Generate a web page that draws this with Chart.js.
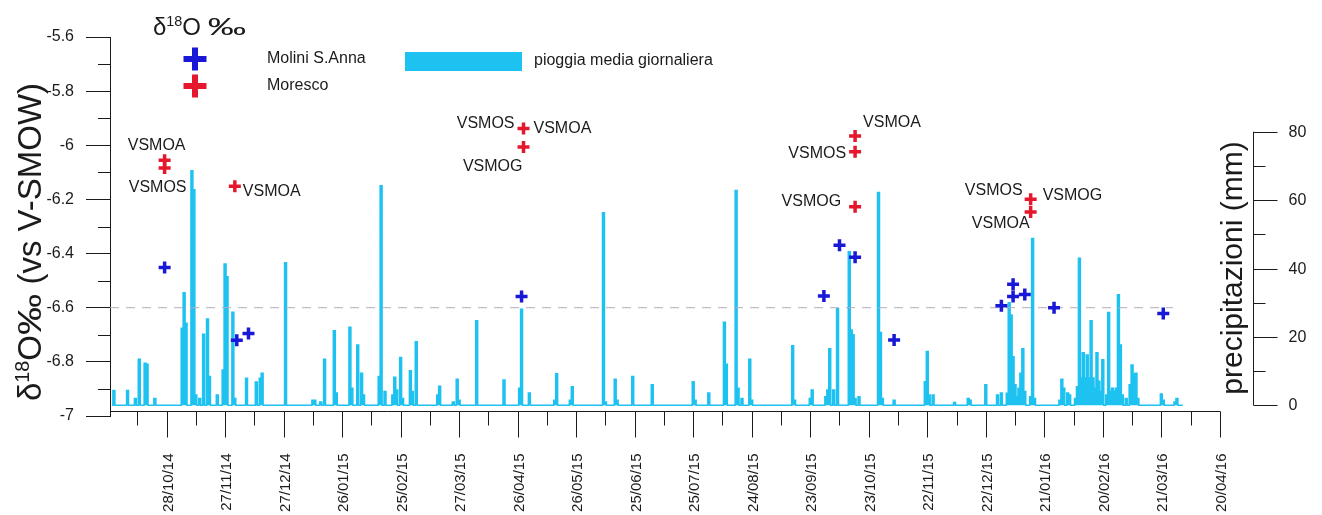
<!DOCTYPE html>
<html lang="it">
<head>
<meta charset="utf-8">
<title>δ18O e pioggia media giornaliera</title>
<script src="https://cdn.jsdelivr.net/npm/chart.js@4.4.1/dist/chart.umd.min.js"></script>
<style>
  html, body { margin: 0; padding: 0; background: #ffffff; }
  canvas { display: block; }
</style>
</head>
<body>
<canvas id="chart" width="1322" height="515"></canvas>
<script>
// ---------- data ----------
// time axis labels (dd/mm/yy), one every 30 days
const dateTicks = ['28/10/14','27/11/14','27/12/14','26/01/15','25/02/15','27/03/15','26/04/15',
  '26/05/15','25/06/15','25/07/15','24/08/15','23/09/15','23/10/15','22/11/15','22/12/15',
  '21/01/16','20/02/16','21/03/16','20/04/16'];
const axisFrom = '29/09/14';
const axisTo = '07/05/16';

// δ18O axis and precipitation axis ticks
const deltaTicks = [-7, -6.8, -6.6, -6.4, -6.2, -6, -5.8, -5.6];
const rainTicks = [0, 20, 40, 60, 80];

// Molini S.Anna samples
const molDates = ['27/10/14','03/12/14','09/12/14','28/04/15','30/09/15','08/10/15','16/10/15',
  '05/11/15','30/12/15','05/01/16','05/01/16','11/01/16','26/01/16','22/03/16'];
const molD18O = [-6.451, -6.72, -6.695, -6.559, -6.557, -6.369, -6.414,
  -6.719, -6.593, -6.513, -6.559, -6.551, -6.60, -6.621];

// Moresco samples and their site tags
const morDates = ['27/10/14','27/10/14','02/12/14','29/04/15','29/04/15','16/10/15','16/10/15',
  '16/10/15','14/01/16','14/01/16'];
const morD18O = [-6.055, -6.084, -6.151, -5.938, -6.006, -5.966, -6.024, -6.227, -6.199, -6.246];
const morTags = [['VSMOA'], ['VSMOS'], ['VSMOA'], ['VSMOS', 'VSMOA'], ['VSMOG'], ['VSMOA'],
  ['VSMOS'], ['VSMOG'], ['VSMOS', 'VSMOG'], ['VSMOA']];

// reference level drawn as a dashed line
const meanLevel = -6.6;
const meanFrom = '29/09/14';
const meanTo = '27/03/16';

// daily rainfall (mm): record period, then rainy days as day offsets from 28/10/14
const rainFrom = '30/09/14';
const rainTo = '01/04/16';
const rainDay = [-27,-20,-16,-14,-11,-10,-6,8,9,10,13,14,15,17,19,21,22,26,29,30,31,34,35,41,46,48,49,
  61,75,76,79,81,86,87,94,95,98,100,101,109,110,112,116,117,118,120,121,125,126,128,139,140,147,149,150,
  159,173,181,182,186,199,200,207,208,224,225,230,231,239,249,270,271,278,286,287,292,293,295,299,300,
  321,322,330,331,338,339,340,342,344,350,351,352,353,355,365,366,367,373,389,390,391,393,404,411,412,
  420,426,428,431,432,433,434,435,436,437,438,439,440,443,444,445,458,459,460,462,463,466,467,468,469,
  470,471,472,473,474,475,476,477,478,479,480,482,483,484,485,486,487,488,489,490,492,494,495,496,497,
  498,510,511,517,518];
const rainMm = [4.3,4.3,2,13.5,12.3,12.0,2,22.5,32.9,24,68.6,63,3,2,20.8,25.2,8.4,3,10.3,41.3,37.6,27.2,2,7.9,6.8,7.9,9.4,
  41.7,1.5,1.5,1,13.5,21.8,3.6,22.8,5,17.6,9.4,3,8.4,64.2,4,3,8.2,4.5,14,2,10.1,4,18.6,3,5.6,1,7.6,1.5,
  24.7,7.4,5,28.1,3.6,1.5,9.2,1.5,5.4,56.3,1,7.6,1.5,8.4,6,6.9,1.5,3.6,24.3,12,62.8,5,2,13.5,1.5,
  17.4,1.5,2,4.5,2.5,4.5,16.5,4.5,28.2,44.9,22,20.6,2,2.5,62.2,21.3,2,1.5,6.9,15.7,3,3,0.8,2,1.5,
  6,3,3.6,3.5,30,26.4,14.2,6,2.5,5,9.4,16.5,4,2.5,48.8,2,1.5,7.6,5,3.6,3,2,5.4,43,8,
  15.4,8,14.7,8,24.7,8,5,15.4,7,4,13.3,3,27.1,4,5,4,5,32.3,17.6,3,2,6,11.8,9.1,9.4,
  2,3.3,1.5,1,2];

// ---------- helpers ----------
const FONT = '"Liberation Sans", Arial, Helvetica, sans-serif';
const INK = '#1b1b1b';
const RAIN = '#1ec2f0';
const BLUE = '#1818d6';
const RED = '#e5172c';

const epoch = Date.UTC(2014, 9, 28);
function toDay(s) {
  const [d, m, y] = s.split('/').map(Number);
  return Math.round((Date.UTC(2000 + y, m - 1, d) - epoch) / 864e5);
}

const rainByDay = new Map(rainDay.map((d, i) => [d, rainMm[i]]));
const rainSeries = [];
for (let d = toDay(rainFrom); d <= toDay(rainTo); d++) {
  rainSeries.push({ x: d, y: rainByDay.has(d) ? rainByDay.get(d) : 0 });
}

// where each site tag sits around its cross
const tagPlacement = [
  [{ dx: -8, dy: -15, align: 'center' }],
  [{ dx: -7, dy: 20, align: 'center' }],
  [{ dx: 8, dy: 5, align: 'left' }],
  [{ dx: -9, dy: -5, align: 'right' }, { dx: 10, dy: 0, align: 'left' }],
  [{ dx: -1, dy: 20, align: 'right' }],
  [{ dx: 8, dy: -13, align: 'left' }],
  [{ dx: -9, dy: 2, align: 'right' }],
  [{ dx: -14, dy: -5, align: 'right' }],
  [{ dx: -8, dy: -9, align: 'right' }, { dx: 12, dy: -4, align: 'left' }],
  [{ dx: -1, dy: 12, align: 'right' }]
];

function seg(ctx, x1, y1, x2, y2) {
  ctx.beginPath(); ctx.moveTo(x1, y1); ctx.lineTo(x2, y2); ctx.stroke();
}
function crossMark(ctx, x, y, r, w, color) {
  ctx.save();
  ctx.strokeStyle = color; ctx.lineWidth = w;
  seg(ctx, x - r, y, x + r, y);
  seg(ctx, x, y - r, x, y + r);
  ctx.restore();
}
// text made of runs: plain, superscript, or horizontally widened
function runFont(p, size) { return `${p.sup ? size * 0.6 : size}px ${FONT}`; }
function richWidth(ctx, parts, size) {
  let w = 0;
  for (const p of parts) {
    ctx.font = runFont(p, size);
    w += ctx.measureText(p.t).width * (p.wide || 1);
  }
  return w;
}
function richDraw(ctx, parts, size, u, v) {
  for (const p of parts) {
    ctx.font = runFont(p, size);
    const w = ctx.measureText(p.t).width;
    const k = p.wide || 1;
    ctx.save();
    ctx.translate(u, p.sup ? v - size * 0.36 : v);
    ctx.scale(k, 1);
    ctx.fillText(p.t, 0, 0);
    ctx.restore();
    u += w * k;
  }
}
function rotatedRich(ctx, parts, size, baseX, centerY) {
  ctx.save();
  ctx.translate(baseX, centerY);
  ctx.rotate(-Math.PI / 2);
  ctx.textAlign = 'left';
  ctx.textBaseline = 'alphabetic';
  const w = richWidth(ctx, parts, size);
  richDraw(ctx, parts, size, -w / 2, 0);
  ctx.restore();
}

const AXIS_LIFT = 5;      // time axis sits a little above the bottom of the δ18O axis
const MAJOR = 26, MINOR = 14;

const decorations = {
  id: 'decorations',
  afterDatasetsDraw(chart) {
    const { ctx } = chart;
    const xs = chart.scales.x, ys = chart.scales.y;
    ctx.save();
    ctx.fillStyle = INK;
    ctx.font = `16px ${FONT}`;
    ctx.textBaseline = 'middle';
    morTags.forEach((tags, i) => {
      const px = xs.getPixelForValue(toDay(morDates[i]));
      const py = ys.getPixelForValue(morD18O[i]);
      tags.forEach((t, j) => {
        const p = tagPlacement[i][j];
        ctx.textAlign = p.align;
        ctx.fillText(t, px + p.dx, py + p.dy);
      });
    });
    ctx.restore();
  },
  afterDraw(chart) {
    const { ctx, chartArea: a } = chart;
    const xs = chart.scales.x, ys = chart.scales.y, ps = chart.scales.y2;
    ctx.save();
    ctx.strokeStyle = INK;
    ctx.fillStyle = INK;
    ctx.lineWidth = 1;

    // minor ticks of the δ18O axis
    for (let i = 0; i < deltaTicks.length - 1; i++) {
      const y = Math.round(ys.getPixelForValue((deltaTicks[i] + deltaTicks[i + 1]) / 2)) + 0.5;
      seg(ctx, a.left - 12, y, a.left, y);
    }

    // time axis
    const ay = Math.round(a.bottom - AXIS_LIFT) + 0.5;
    const days = dateTicks.map(toDay);
    seg(ctx, a.left, ay, xs.getPixelForValue(days[days.length - 1]) + 0.5, ay);
    const minors = [days[0] - (days[1] - days[0]) / 2];
    for (let i = 0; i < days.length - 1; i++) minors.push((days[i] + days[i + 1]) / 2);
    minors.forEach(d => {
      const x = Math.round(xs.getPixelForValue(d)) + 0.5;
      seg(ctx, x, ay, x, ay + MINOR);
    });
    ctx.font = `15px ${FONT}`;
    days.forEach((d, i) => {
      const x = Math.round(xs.getPixelForValue(d)) + 0.5;
      seg(ctx, x, ay, x, ay + MAJOR);
      ctx.save();
      ctx.translate(x + 1, ay + 42);
      ctx.rotate(-Math.PI / 2);
      ctx.textAlign = 'right';
      ctx.textBaseline = 'middle';
      ctx.fillText(dateTicks[i], 0, 0);
      ctx.restore();
    });

    // precipitation axis
    const rx = Math.round(a.right) + 0.5;
    seg(ctx, rx, ps.getPixelForValue(rainTicks[0]), rx, ps.getPixelForValue(rainTicks[rainTicks.length - 1]));
    ctx.font = `16px ${FONT}`;
    ctx.textAlign = 'left';
    ctx.textBaseline = 'middle';
    rainTicks.forEach((v, i) => {
      const y = Math.round(ps.getPixelForValue(v)) + 0.5;
      seg(ctx, rx, y, rx + 24, y);
      ctx.fillText(String(v), rx + 35, y);
      if (i < rainTicks.length - 1) {
        const ym = Math.round(ps.getPixelForValue((v + rainTicks[i + 1]) / 2)) + 0.5;
        seg(ctx, rx, ym, rx + 12, ym);
      }
    });

    // axis titles
    rotatedRich(ctx, [{ t: 'δ' }, { t: '18', sup: true }, { t: 'O' }, { t: '‰', wide: 1.25 }, { t: ' (vs V-SMOW)' }], 33, 41, 242);
    rotatedRich(ctx, [{ t: 'precipitazioni (mm)' }], 30, 1242, 268);

    // key
    ctx.textAlign = 'left';
    ctx.textBaseline = 'alphabetic';
    richDraw(ctx, [{ t: 'δ' }, { t: '18', sup: true }, { t: 'O ' }, { t: '‰', wide: 1.6 }], 24, 153, 35);
    const ds = chart.data.datasets;
    crossMark(ctx, 195, 59, 11.5, 6, BLUE);
    crossMark(ctx, 195, 86, 11.5, 6, RED);
    ctx.font = `16px ${FONT}`;
    ctx.textBaseline = 'middle';
    ctx.fillText(ds[2].label, 267, 59);
    ctx.fillText(ds[3].label, 267, 86);
    ctx.fillStyle = RAIN;
    ctx.fillRect(405, 52, 117, 19);
    ctx.fillStyle = INK;
    ctx.fillText(ds[0].label, 534, 61);
    ctx.restore();
  }
};

new Chart(document.getElementById('chart'), {
  type: 'line',
  data: {
    datasets: [
      {
        label: 'pioggia media giornaliera',
        yAxisID: 'y2',
        data: rainSeries,
        stepped: 'middle',
        borderColor: RAIN,
        backgroundColor: RAIN,
        borderWidth: 1.5,
        fill: 'origin',
        pointRadius: 0,
        order: 4
      },
      {
        label: 'media',
        yAxisID: 'y',
        data: [{ x: toDay(meanFrom), y: meanLevel }, { x: toDay(meanTo), y: meanLevel }],
        borderColor: '#b4abbb',
        borderWidth: 1,
        borderDash: [9, 7],
        pointRadius: 0,
        fill: false,
        order: 3
      },
      {
        label: 'Molini S.Anna',
        yAxisID: 'y',
        data: molDates.map((d, i) => ({ x: toDay(d), y: molD18O[i] })),
        showLine: false,
        pointStyle: 'cross',
        pointRadius: 6,
        pointBorderWidth: 3.5,
        pointBorderColor: BLUE,
        borderColor: BLUE,
        order: 2
      },
      {
        label: 'Moresco',
        yAxisID: 'y',
        data: morDates.map((d, i) => ({ x: toDay(d), y: morD18O[i] })),
        showLine: false,
        pointStyle: 'cross',
        pointRadius: 6,
        pointBorderWidth: 3.5,
        pointBorderColor: RED,
        borderColor: RED,
        order: 1
      }
    ]
  },
  options: {
    responsive: false,
    animation: false,
    devicePixelRatio: 1,
    layout: { padding: { left: 0, right: 69, top: 37, bottom: 99 } },
    plugins: { legend: { display: false }, tooltip: { enabled: false } },
    scales: {
      x: { type: 'linear', display: false, min: toDay(axisFrom), max: toDay(axisTo) },
      y: {
        position: 'left',
        min: -7,
        max: -5.6,
        afterFit: s => { s.width = 110; },
        afterBuildTicks: s => { s.ticks = deltaTicks.map(v => ({ value: v })); },
        ticks: {
          callback: v => String(+Number(v).toFixed(1)),
          color: INK,
          font: { family: FONT, size: 16 },
          padding: 12
        },
        grid: { drawOnChartArea: false, tickLength: 24, tickColor: INK, tickWidth: 1 },
        border: { color: INK, width: 1 }
      },
      y2: { type: 'linear', position: 'right', display: false, min: -3.13, max: 107.7 }
    }
  },
  plugins: [decorations]
});
</script>
</body>
</html>
